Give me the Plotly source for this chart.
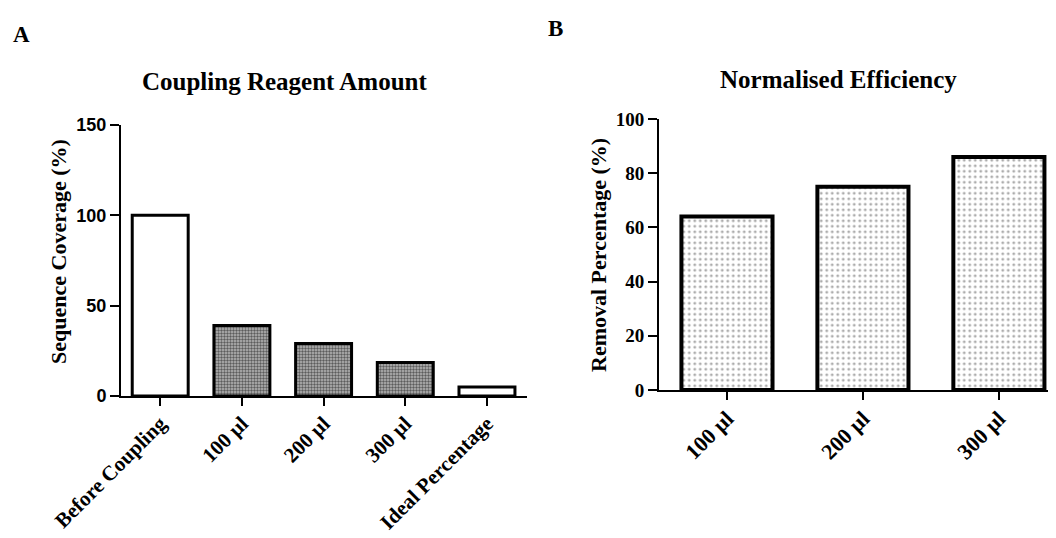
import plotly.graph_objects as go

# ---- data ----
cats_a = ["Before Coupling", "100 µl", "200 µl", "300 µl", "Ideal Percentage"]
vals_a = [100, 39, 29, 18.5, 5]
cats_b = ["100 µl", "200 µl", "300 µl"]
vals_b = [64, 75, 86]
yticks_a = [0, 50, 100, 150]
yticks_b = [0, 20, 40, 60, 80, 100]

serif = "Liberation Serif"
sans = "Liberation Sans"

# The page body adds an 8px margin, so the figure is 8px smaller and
# every position below is given in figure pixels (reference - 8).
W, H = 1048, 530

fig = go.Figure()

# Panel A: two plain bars + three patterned bars
plain_idx = [0, 4]
pat_idx = [1, 2, 3]
fig.add_trace(go.Bar(
    x=[cats_a[i] for i in plain_idx], y=[vals_a[i] for i in plain_idx],
    xaxis="x", yaxis="y", width=0.685,
    marker=dict(color="white", line=dict(color="black", width=3)),
    showlegend=False, hoverinfo="x+y"))
fig.add_trace(go.Bar(
    x=[cats_a[i] for i in pat_idx], y=[vals_a[i] for i in pat_idx],
    xaxis="x", yaxis="y", width=0.685,
    marker=dict(color="white", line=dict(color="black", width=3),
                pattern=dict(shape=".", size=3, solidity=0.5,
                             fgcolor="#000000", bgcolor="#b8b8b8")),
    showlegend=False, hoverinfo="x+y"))

# Panel B
fig.add_trace(go.Bar(
    x=cats_b, y=vals_b, xaxis="x2", yaxis="y2", width=0.67,
    marker=dict(color="white", line=dict(color="black", width=4),
                pattern=dict(shape=".", size=5.5, solidity=0.22,
                             fgcolor="#5a5a5a", bgcolor="white")),
    showlegend=False, hoverinfo="x+y"))

axis_common = dict(showline=True, linecolor="black", linewidth=2,
                   ticks="outside", tickcolor="black", tickwidth=2,
                   showgrid=False, zeroline=False, automargin=False)

fig.update_layout(
    width=W, height=H,
    margin=dict(l=0, r=0, t=0, b=0, autoexpand=False),
    paper_bgcolor="white", plot_bgcolor="white",
    bargap=0.3,
    xaxis=dict(domain=[113 / W, 519 / W], anchor="y",
               categoryorder="array", categoryarray=cats_a,
               range=[-0.48, 4.49], tickangle=-45, ticklen=8,
               ticklabelstandoff=-3,
               tickfont=dict(family=serif, size=21, color="black", weight="bold"),
               **axis_common),
    yaxis=dict(domain=[1 - 388 / H, 1 - 117 / H], anchor="x",
               range=[0, 150], tickvals=yticks_a, ticklen=9,
               tickfont=dict(family=sans, size=18, color="black", weight="bold"),
               **axis_common),
    xaxis2=dict(domain=[651 / W, 1.0], anchor="y2",
                categoryorder="array", categoryarray=cats_b,
                range=[-0.5, 2.42], tickangle=-45, ticklen=8,
                ticklabelstandoff=-3,
                tickfont=dict(family=serif, size=22, color="black", weight="bold"),
                **axis_common),
    yaxis2=dict(domain=[1 - 382 / H, 1 - 111 / H], anchor="x2",
                range=[0, 100], tickvals=yticks_b, ticklen=9,
                tickfont=dict(family=serif, size=19, color="black", weight="bold"),
                **axis_common),
)

def ann(text, x, y, size, angle=0):
    fig.add_annotation(text=text, x=x / W, y=1 - y / H, xref="paper", yref="paper",
                       xanchor="center", yanchor="middle", showarrow=False,
                       textangle=angle,
                       font=dict(family=serif, size=size, color="black", weight="bold"))

ann("A", 13, 27, 23)
ann("B", 547, 21, 23)
ann("Coupling Reagent Amount", 276, 74, 25)
ann("Normalised Efficiency", 830, 72, 25)
ann("Sequence Coverage (%)", 50, 244, 22, -90)
ann("Removal Percentage (%)", 590, 247, 22, -90)

fig.write_html("out.html")
